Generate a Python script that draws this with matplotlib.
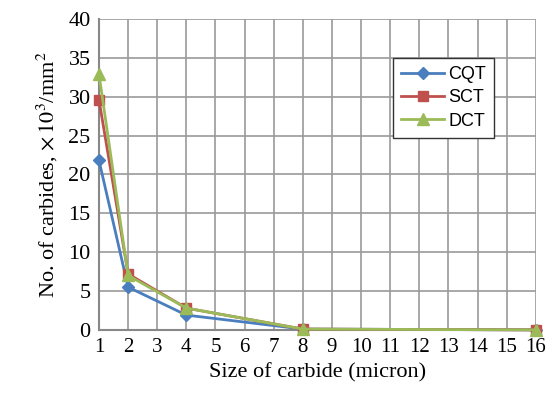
import matplotlib.pyplot as plt

sizes = [1, 2, 4, 8, 16]
cqt = [21.8, 5.5, 1.9, 0.1, 0.0]
sct = [29.6, 7.2, 2.8, 0.1, 0.0]
dct = [32.9, 7.0, 2.8, 0.1, 0.0]
xticks = list(range(1, 17))
yticks = list(range(0, 41, 5))

plt.rcParams["font.family"] = ["Liberation Serif", "DejaVu Serif"]
plt.rcParams["mathtext.fontset"] = "stix"

fig = plt.figure(figsize=(5.53, 3.96), dpi=100)
ax = fig.add_axes([0.179, 0.167, 0.79, 0.785])

ax.plot(sizes, cqt, color="#4a7ebf", marker="D", markersize=6, lw=2, label="CQT", clip_on=False, zorder=3)
ax.plot(sizes, sct, color="#c0504d", marker="s", markersize=7, lw=2, label="SCT", clip_on=False, zorder=3)
ax.plot(sizes, dct, color="#9bbb59", marker="^", markersize=8, lw=2, label="DCT", clip_on=False, zorder=3)

ax.set_xlim(1, 16)
ax.set_ylim(0, 40)
ax.set_xticks(xticks)
ax.set_yticks(yticks)
ax.grid(True, color="#9a9a9a", lw=1.2)
ax.set_axisbelow(True)
for s in ["top", "right"]:
    ax.spines[s].set_visible(False)
for s in ["left", "bottom"]:
    ax.spines[s].set_color("#888888")
    ax.spines[s].set_linewidth(1.5)
ax.tick_params(length=0, labelsize=16, pad=6)
for lab in ax.get_xticklabels():
    lab.set_fontsize(15)

ax.set_xlabel("Size of carbide (micron)", fontsize=16, labelpad=4)
ax.set_ylabel(r"No. of carbides, $\times\,10^3$/mm$^2$", fontsize=16, labelpad=6)

leg = ax.legend(loc="upper right", bbox_to_anchor=(0.904, 0.875), borderaxespad=0,
                fancybox=False, edgecolor="#333333", framealpha=1,
                prop={"family": "Liberation Sans", "size": 13}, handlelength=2.4,
                borderpad=0.45, labelspacing=0.35, handletextpad=0.2)
leg.get_frame().set_linewidth(1.0)

fig.savefig("out.png", dpi=100)
